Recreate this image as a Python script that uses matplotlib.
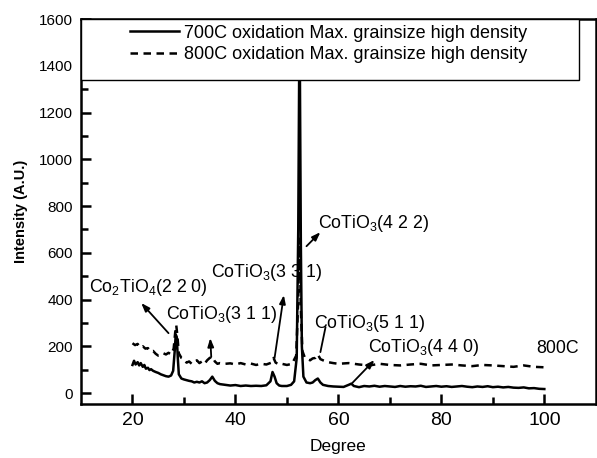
#!/usr/bin/env python3
"""XRD patterns of the 700C / 800C oxidised samples."""

import matplotlib

matplotlib.use("Agg")
import matplotlib.pyplot as plt
from matplotlib.patches import Rectangle

# 700C oxidation, Max. grainsize high density (solid)
deg_700 = [
    20.0, 20.3, 20.6, 21.0, 21.3, 21.6, 22.0, 22.3, 22.6, 23.0, 23.3, 23.6,
    24.0, 24.5, 25.0, 25.5, 26.0, 26.5, 27.0, 27.5, 27.9, 28.2, 28.4, 28.6,
    28.8, 29.0, 29.5, 30.0, 30.5, 31.0, 31.5, 32.0, 32.5, 33.0, 33.5, 34.0,
    34.5, 35.0, 35.5, 36.0, 36.5, 37.0, 38.0, 39.0, 40.0, 41.0, 42.0, 43.0,
    44.0, 45.0, 46.0, 46.8, 47.2, 47.6, 48.0, 48.5, 49.0, 50.0, 50.8, 51.4,
    51.9, 52.2, 52.45, 52.7, 52.9, 53.2, 53.8, 54.5, 55.0, 55.5, 56.0, 56.5,
    57.0, 58.0, 59.0, 60.0, 61.0, 62.0, 62.5, 63.0, 64.0, 65.0, 66.0, 67.0,
    68.0, 69.0, 70.0, 71.0, 72.0, 73.0, 74.0, 75.0, 76.0, 77.0, 78.0, 79.0,
    80.0, 81.0, 82.0, 83.0, 84.0, 85.0, 86.0, 87.0, 88.0, 89.0, 90.0, 91.0,
    92.0, 93.0, 94.0, 95.0, 96.0, 97.0, 98.0, 99.0, 100.0,
]
int_700 = [
    120, 138, 122, 132, 118, 128, 112, 120, 104, 108, 98, 102,
    95, 90, 86, 80, 76, 72, 70, 75, 95, 180, 250, 240,
    150, 80, 62, 58, 55, 52, 50, 45, 48, 45, 50, 42,
    45, 55, 70, 52, 42, 38, 35, 32, 34, 30, 32, 30,
    31, 30, 33, 50, 90, 70, 42, 32, 30, 30, 35, 50,
    150, 700, 1650, 650, 200, 70, 45, 42, 45, 55, 62, 45,
    35, 30, 28, 27, 26, 35, 40, 30, 25, 30, 28, 31,
    27, 30, 28, 26, 30, 27, 29, 28, 31, 26, 28, 30,
    27, 29, 26, 28, 30, 27, 25, 28, 26, 29, 25, 27,
    24, 26, 23, 22, 24, 20, 21, 18, 17,
]

# 800C oxidation, Max. grainsize high density (dashed)
deg_800 = [
    20.0, 20.5, 21.0, 21.5, 22.0, 22.5, 23.0, 23.5, 24.0, 24.5, 25.0, 25.5,
    26.0, 26.5, 27.0, 27.5, 28.0, 28.3, 28.5, 28.7, 29.0, 29.5, 30.0, 30.5,
    31.0, 31.5, 32.0, 32.5, 33.0, 33.5, 34.0, 34.5, 35.0, 35.5, 36.0, 36.5,
    37.0, 38.0, 39.0, 40.0, 41.0, 42.0, 43.0, 44.0, 45.0, 46.0, 47.0, 47.4,
    47.8, 48.5, 49.0, 50.0, 51.0, 51.8, 52.2, 52.45, 52.7, 53.0, 53.5, 54.0,
    54.5, 55.0, 55.5, 56.0, 56.5, 57.0, 58.0, 59.0, 60.0, 62.0, 64.0, 66.0,
    68.0, 70.0, 72.0, 74.0, 76.0, 78.0, 80.0, 82.0, 84.0, 86.0, 88.0, 90.0,
    92.0, 94.0, 96.0, 98.0, 100.0,
]
int_800 = [
    213, 205, 210, 195, 200, 190, 192, 178, 180, 168, 160, 162,
    170, 165, 172, 165, 190, 260, 290, 250, 170, 150, 145, 130,
    135, 125, 130, 140, 128, 135, 125, 140, 150, 155, 135, 125,
    128, 125, 127, 122, 128, 122, 126, 120, 125, 122, 130, 150,
    130, 122, 125, 120, 125, 160, 400, 660, 360, 180, 150, 145,
    140, 148, 150, 165, 145, 140, 132, 128, 125, 128, 122, 118,
    125, 120, 118, 122, 125, 118, 120, 122, 118, 115, 120, 118,
    115, 112, 118, 112, 110,
]

# peak labels: text, text anchor (deg, intensity), arrow head, arrow tail
peak_labels = [
    r"Co$_2$TiO$_4$(2 2 0)",
    r"CoTiO$_3$(3 1 1)",
    r"CoTiO$_3$(3 3 1)",
    r"CoTiO$_3$(4 2 2)",
    r"CoTiO$_3$(5 1 1)",
    r"CoTiO$_3$(4 4 0)",
]
label_xy = [(11.5, 432), (26.6, 316), (35.3, 496), (56.0, 705), (55.2, 278), (65.8, 175)]
arrow_head = [(21.7, 385), (35.1, 235), (49.4, 419), (56.5, 688), (57.5, 282), (67.0, 141)]
arrow_tail = [(27.0, 256), (35.3, 154), (47.6, 150), (53.8, 628), (56.5, 175), (62.7, 43)]
arrow_has_head = [True, True, True, True, False, True]


def main() -> None:
    plt.rcParams.update(
        {
            "font.family": ["Liberation Sans", "DejaVu Sans"],
            "mathtext.fontset": "custom",
            "mathtext.rm": "Liberation Sans",
            "mathtext.it": "Liberation Sans",
        }
    )
    fig = plt.figure(figsize=(5.97, 4.58), dpi=100)
    ax = fig.add_axes([0.1357, 0.1179, 0.8623, 0.8406])

    (line_700,) = ax.plot(deg_700, int_700, color="black", lw=1.8)
    (line_800,) = ax.plot(deg_800, int_800, color="black", lw=1.8, ls=(0, (3, 2.2)))

    ax.set_xlim(10, 110)
    ax.set_ylim(-47, 1600)
    ax.set_xticks([20, 40, 60, 80, 100])
    ax.set_xticks([30, 50, 70, 90], minor=True)
    ax.set_yticks(range(0, 1601, 200))
    ax.set_yticks(range(100, 1600, 200), minor=True)
    ax.tick_params(axis="both", which="both", direction="in", width=1.8)
    ax.tick_params(axis="both", which="major", length=7)
    ax.tick_params(axis="both", which="minor", length=5)
    ax.tick_params(axis="x", labelsize=14, pad=6)
    ax.tick_params(axis="y", labelsize=11, pad=6)
    for spine in ax.spines.values():
        spine.set_linewidth(1.8)

    ax.set_ylabel("Intensity (A.U.)", fontsize=10.5, fontweight="bold", labelpad=8)
    ax.set_xlabel("Degree", fontsize=12.5, labelpad=7)

    for text, xy, head, tail, has_head in zip(
        peak_labels, label_xy, arrow_head, arrow_tail, arrow_has_head
    ):
        ax.text(xy[0], xy[1], text, fontsize=12.8, ha="left", va="baseline")
        ax.annotate(
            "",
            xy=head,
            xytext=tail,
            arrowprops=dict(
                arrowstyle="-|>,head_length=0.5,head_width=0.18" if has_head else "-",
                color="black",
                lw=1.3,
                shrinkA=0,
                shrinkB=0,
            ),
        )
    ax.text(98.5, 171, "800C", fontsize=12.8, ha="left", va="baseline")

    # legend box spanning from the left spine
    ax.add_patch(
        Rectangle(
            (0, 0.8416), 0.967, 0.1584, transform=ax.transAxes,
            facecolor="white", edgecolor="black", lw=1.0, zorder=4, clip_on=False,
        )
    )
    legend = ax.legend(
        [line_700, line_800],
        [
            "700C oxidation Max. grainsize high density",
            "800C oxidation Max. grainsize high density",
        ],
        loc="upper left",
        bbox_to_anchor=(0.095, 0.985),
        borderaxespad=0,
        borderpad=0,
        frameon=False,
        fontsize=13,
        handlelength=2.7,
        handletextpad=0.3,
        labelspacing=0.25,
    )
    legend.set_zorder(5)

    fig.savefig("out.png", dpi=100)
    plt.close(fig)


if __name__ == "__main__":
    main()
